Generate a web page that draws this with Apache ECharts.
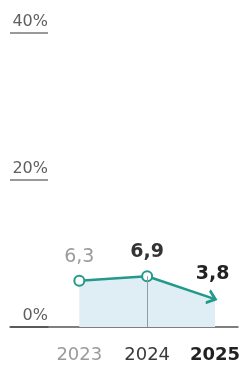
<!DOCTYPE html>
<html>
<head>
<meta charset="utf-8">
<script src="https://cdn.jsdelivr.net/npm/echarts@6/dist/echarts.min.js"></script>
<style>
  html, body { margin: 0; padding: 0; background: #fff; }
  #chart { width: 243px; height: 370px; }
</style>
</head>
<body>
<div id="chart"></div>
<script>
  // data
  const years = [2023, 2024, 2025]
  const values = [6.3, 6.9, 3.8]
  const yTicks = [0, 20, 40]

  const teal = '#22998b'
  const font = 'DejaVu Sans'

  // per-year text look: old year faded, current bold
  const yearRich = {
    y0: { color: '#9b9b9b', fontSize: 18, fontFamily: font },
    y1: { color: '#3a3a3a', fontSize: 18, fontFamily: font },
    y2: { color: '#222', fontSize: 18, fontFamily: font, fontWeight: 'bold' }
  }
  const valueLabel = [
    { color: '#9b9b9b', fontWeight: 'normal', distance: 8, offset: [0, 0] },
    { color: '#333', fontWeight: 600, distance: 9, offset: [0, 0] },
    { color: '#222', fontWeight: 'bold', distance: 9, offset: [1, 6] }
  ]

  const arrowPath = 'path://M0,0L7,6L0,12'

  const myChart = echarts.init(document.getElementById('chart'))

  function buildOption(arrowRotate, arrowOffset) {
    const seriesData = years.map((y, i) => {
      let item = {
        value: [y, values[i]],
        label: {
          show: true,
          position: 'top',
          distance: valueLabel[i].distance,
          offset: valueLabel[i].offset,
          fontSize: 19,
          fontFamily: font,
          color: valueLabel[i].color,
          fontWeight: valueLabel[i].fontWeight,
          formatter: (p) => String(p.value[1]).replace('.', ',')
        }
      }
      if (i === years.length - 1) {
        item.symbol = arrowPath
        item.symbolSize = [8, 13]
        item.symbolRotate = arrowRotate
        item.symbolOffset = arrowOffset
        item.itemStyle = { color: 'none', borderColor: teal, borderWidth: 2.5 }
      }
      return item
    })

    return {
      animation: false,
      grid: [
        // small grid on the left just for the short underlines of the % labels
        { left: 10, width: 38, top: 33, bottom: 43 },
        { left: 11.5, right: 3, top: 33, bottom: 43 }
      ],
      xAxis: [
        {
          gridIndex: 0, type: 'value', min: 0, max: 1,
          axisLine: { show: true, lineStyle: { color: '#555', width: 1.5 } },
          axisTick: { show: false }, axisLabel: { show: false }, splitLine: { show: false }
        },
        {
          gridIndex: 1, type: 'value', min: 2022, max: 2025.34, interval: 1,
          axisLine: { show: true, lineStyle: { color: '#555', width: 1.5 } },
          axisTick: { show: false },
          splitLine: { show: false },
          axisLabel: {
            margin: 19,
            formatter: (v) => {
              let idx = years.indexOf(v)
              return idx < 0 ? '' : '{y' + idx + '|' + v + '}'
            },
            rich: yearRich
          }
        }
      ],
      yAxis: [
        {
          gridIndex: 0, type: 'value', position: 'right',
          min: yTicks[0], max: yTicks[yTicks.length - 1], interval: yTicks[1] - yTicks[0],
          axisLine: { show: false }, axisTick: { show: false },
          splitLine: { show: true, lineStyle: { color: '#999', width: 2 } },
          axisLabel: {
            inside: true,
            margin: 0,
            align: 'right',
            verticalAlign: 'bottom',
            padding: [0, 0, 3, 0],
            color: '#5f5f5f',
            fontSize: 16,
            fontFamily: font,
            formatter: '{value}%'
          }
        },
        {
          gridIndex: 1, type: 'value',
          min: yTicks[0], max: yTicks[yTicks.length - 1],
          show: false
        }
      ],
      series: [{
        type: 'line',
        xAxisIndex: 1,
        yAxisIndex: 1,
        data: seriesData,
        symbol: 'emptyCircle',
        symbolSize: 10,
        lineStyle: { color: teal, width: 2.5 },
        itemStyle: { color: teal, borderColor: teal, borderWidth: 2 },
        areaStyle: { color: '#dfeef4', opacity: 1 },
        markLine: {
          silent: true,
          symbol: 'none',
          label: { show: false },
          lineStyle: { color: '#8e9ea4', width: 1, type: 'solid' },
          data: [[{ coord: [years[1], values[1]] }, { coord: [years[1], 0] }]]
        },
        z: 3
      }]
    }
  }

  myChart.setOption(buildOption(0, [0, 0]))

  // turn the end symbol into an arrow pointing along the last segment
  let n = years.length
  let p1 = myChart.convertToPixel({ seriesIndex: 0 }, [years[n - 2], values[n - 2]])
  let p2 = myChart.convertToPixel({ seriesIndex: 0 }, [years[n - 1], values[n - 1]])
  let ang = Math.atan2(p2[1] - p1[1], p2[0] - p1[0])
  let back = 3.5
  myChart.setOption(buildOption(-ang * 180 / Math.PI, [-Math.cos(ang) * back, -Math.sin(ang) * back]))
</script>
</body>
</html>
